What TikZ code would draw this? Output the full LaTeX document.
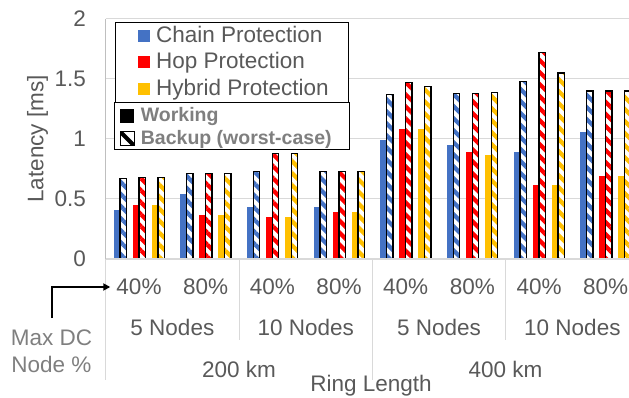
\documentclass[tikz,border=0pt]{standalone}
\usepackage{fontspec}
\setmainfont{Liberation Sans}
\usetikzlibrary{arrows.meta, patterns.meta}
\definecolor{chaincol}{HTML}{4472C4}
\definecolor{hopcol}{HTML}{FF0000}
\definecolor{hybridcol}{HTML}{FFC000}
\definecolor{labelgray}{HTML}{595959}
\definecolor{lightlabel}{HTML}{7F7F7F}
\definecolor{gridgray}{HTML}{D9D9D9}
\definecolor{axisgray}{HTML}{BFBFBF}
\tikzset{
  lbl/.style={font=\fontsize{22.5}{27}\selectfont, text=labelgray, inner sep=0pt},
  keylbl/.style={font=\fontsize{19.5}{23}\selectfont\bfseries, text=lightlabel, inner sep=0pt, anchor=base west},
  backbar/.style={preaction={fill=white}, pattern={Lines[angle=-45,distance=8.5pt,line width=4.2pt]}, pattern color=#1, draw=black, line width=1.2pt},
  gridrule/.style={draw=gridgray, line width=1pt},
  axisrule/.style={draw=axisgray, line width=1pt},
  pointer/.style={-{Triangle[length=7pt,width=7pt]}, line width=2pt},
  keybox/.style={draw=black, fill=white, line width=0.8pt}
}

\begin{document}
\begin{tikzpicture}[x=1pt, y=-1pt]
\useasboundingbox (0,0) rectangle (629,398);
\clip (0,0) rectangle (629,398);

\begin{scope}[shift={(0,259)}, y=120pt]
\foreach \v in {0.5,1,1.5,2}
  \draw[gridrule] (105.7,\v) -- (629,\v);
\foreach \cw/\cb/\hw/\hb/\yw/\yb [count=\i from 0] in {
    0.41/0.67/0.45/0.68/0.45/0.68, 0.54/0.71/0.37/0.71/0.37/0.71,
    0.43/0.73/0.35/0.88/0.35/0.88, 0.43/0.73/0.39/0.73/0.39/0.73,
    0.99/1.37/1.08/1.47/1.08/1.44, 0.95/1.38/0.89/1.38/0.87/1.39,
    0.89/1.48/0.62/1.72/0.62/1.55, 1.06/1.40/0.69/1.40/0.69/1.40}
{
  \pgfmathsetmacro\c{139+66.67*\i}
  \foreach \col/\w/\b [count=\k from -1] in {chaincol/\cw/\cb, hopcol/\hw/\hb, hybridcol/\yw/\yb}
  {
    \fill[\col] ({\c+19*\k-6.35},0) rectangle ({\c+19*\k},\w);
    \draw[backbar=\col] ({\c+19*\k},0) rectangle ({\c+19*\k+6.35},\b);
  }
}
\end{scope}

\draw[axisrule] (105.7,19) -- (105.7,259);
\draw[gridrule, line width=1.5pt] (105.7,259) -- (629,259);
\foreach \x/\e in {105.7/380, 239/340, 372.3/380, 505.6/340}
  \draw[gridrule] (\x,259) -- (\x,\e);

\foreach \v [count=\n from 0] in {0,0.5,1,1.5,2}
  \node[lbl, anchor=east] (tick\n) at (86,259-120*\v) {\v};
\node[lbl, rotate=90, anchor=base] (ylabel) at (43.3,139) {Latency [ms]};

\foreach \p [count=\i from 0] in {40,80,40,80,40,80,40,80}
  \node[lbl] (pct\i) at (139+66.67*\i,287) {\p\%};
\foreach \t [count=\i from 0] in {5,10,5,10}
  \node[lbl] (nodes\i) at (172.4+133.33*\i,327.5) {\t{} Nodes};
\node[lbl] (km0) at (239,369) {200 km};
\node[lbl] (km1) at (505.6,369) {400 km};
\node[lbl, anchor=base] (ring) at (371,391.5) {Ring Length};

\node[lbl, text=lightlabel, align=center, anchor=north] (maxdc) at (51.5,330) {Max DC\\Node \%};
\draw[pointer] ([yshift=12pt]maxdc.north) |- ([xshift=-6pt]pct0.west);

\draw[keybox] (115,22) rectangle (348,102.3);
\draw[keybox] (114,102.3) rectangle (349,149.3);
\fill[chaincol] (138.3,30.2) rectangle ++(11.7,11.7);
\fill[hopcol] (138.3,56.2) rectangle ++(11.7,11.7);
\fill[hybridcol] (138.3,83.2) rectangle ++(11.7,11.7);
\node[lbl, anchor=base west] (keychain) at (156,42.5) {Chain Protection};
\node[lbl, anchor=base west] (keyhop) at (156,69) {Hop Protection};
\node[lbl, anchor=base west] (keyhybrid) at (156,95.5) {Hybrid Protection};

\fill[black] (120,109.5) rectangle ++(14,13.5);
\draw[black, line width=1pt, fill=white] (120.5,132) rectangle ++(13.5,13.5);
\begin{scope}
  \clip (120.5,132) rectangle ++(13.5,13.5);
  \draw[line width=4pt] (120.5,132) -- ++(13.5,13.5);
\end{scope}
\node[keylbl] (keywork) at (140.7,121.7) {Working};
\node[keylbl] (keyback) at (140.7,145) {Backup (worst-case)};
\end{tikzpicture}
\end{document}
